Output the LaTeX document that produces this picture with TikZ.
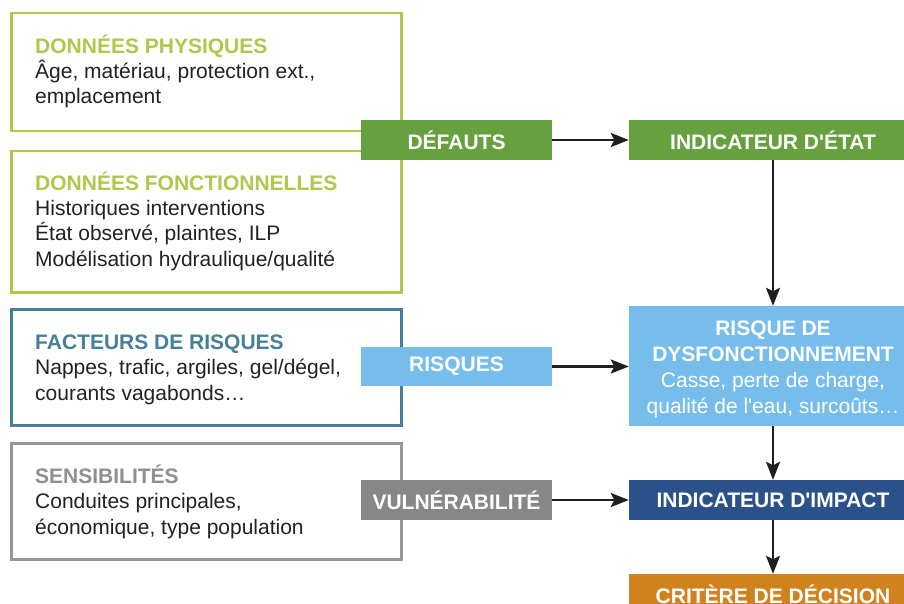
\documentclass[tikz,border=0pt]{standalone}
\usepackage{fontspec}
\setmainfont{Liberation Sans}
\usetikzlibrary{arrows.meta}
\definecolor{lgreen}{HTML}{ADC84B}
\definecolor{dgreen}{HTML}{67A03F}
\definecolor{teal}{HTML}{467F97}
\definecolor{lblue}{HTML}{77BDEC}
\definecolor{gborder}{HTML}{969696}
\definecolor{gtext}{HTML}{8F8F8F}
\definecolor{gfill}{HTML}{878787}
\definecolor{dblue}{HTML}{2A5189}
\definecolor{orangec}{HTML}{D0821E}
\definecolor{bodyc}{HTML}{222222}
\begin{document}
\begin{tikzpicture}[x=1pt,y=-1pt,
  outline/.style={draw, line width=2.5pt, fill=white, minimum width=390pt, inner sep=0pt, anchor=north west},
  txt/.style={anchor=base west, align=left, inner sep=0pt, text=bodyc, font=\fontsize{21}{25.3}\selectfont},
  lab/.style={minimum width=191pt, minimum height=39.5pt, inner sep=0pt, text=white, font=\bfseries\fontsize{21}{25}\selectfont},
  rbox/.style={minimum width=288pt, minimum height=40pt, inner sep=0pt, text=white, font=\bfseries\fontsize{21}{25}\selectfont},
  arr/.style={draw=black!88, line width=2.4pt, -{Stealth[length=18pt,width=14pt,inset=3.5pt]}}
]
\useasboundingbox (0,0) rectangle (904,604);
% left outline boxes
\node[outline, draw=lgreen, minimum height=118pt] (phys) at (10,12) {};
\node[outline, draw=lgreen, minimum height=141pt] (fonc) at (10,150) {};
\node[outline, draw=teal, minimum height=116pt] (fact) at (10,308) {};
\node[outline, draw=gborder, minimum height=116pt] (sens) at (10,442) {};
% texts (anchored at the baseline of their last line)
\node[txt] (physT) at (35,104) {{\bfseries\color{lgreen}DONNÉES PHYSIQUES}\\Âge, matériau, protection ext.,\\emplacement};
\node[txt] (foncT) at (35,266) {{\bfseries\color{lgreen}DONNÉES FONCTIONNELLES}\\Historiques interventions\\État observé, plaintes, ILP\\Modélisation hydraulique/qualité};
\node[txt] (factT) at (35,400) {{\bfseries\color{teal}FACTEURS DE RISQUES}\\Nappes, trafic, argiles, gel/dégel,\\courants vagabonds…};
\node[txt] (sensT) at (35,534) {{\bfseries\color{gtext}SENSIBILITÉS}\\Conduites principales,\\économique, type population};
% label boxes
\node[lab, fill=dgreen] (def) at (456.5,140) {DÉFAUTS};
\node[lab, fill=lblue] (risq) at (456.5,366.5) {RISQUES};
\node[lab, fill=gfill] (vuln) at (456.5,500) {VULNÉRABILITÉ};
% right boxes
\node[rbox, fill=dgreen] (etat) at (773,140) {INDICATEUR D\textquotesingle ÉTAT};
\node[rbox, fill=lblue, minimum height=120pt] (risk) at (773,366) {};
\node[anchor=base, align=center, inner sep=0pt, text=white, font=\fontsize{21}{25.7}\selectfont] (riskT) at (773,413)
  {{\bfseries RISQUE DE}\\{\bfseries DYSFONCTIONNEMENT}\\Casse, perte de charge,\\qualité de l\textquotesingle eau, surcoûts…};
\node[rbox, fill=dblue] (impact) at (773,500) {INDICATEUR D\textquotesingle IMPACT};
\node[rbox, fill=orangec] (crit) at (773,594) {CRITÈRE DE DÉCISION};
% arrows
\draw[arr] (def.east) -- (etat.west);
\draw[arr] (risq.east) -- (risk.west |- risq.east);
\draw[arr] (vuln.east) -- (impact.west);
\draw[arr] (etat.south) -- (risk.north);
\draw[arr] (risk.south) -- (impact.north);
\draw[arr] (impact.south) -- (crit.north);
\end{tikzpicture}
\end{document}
